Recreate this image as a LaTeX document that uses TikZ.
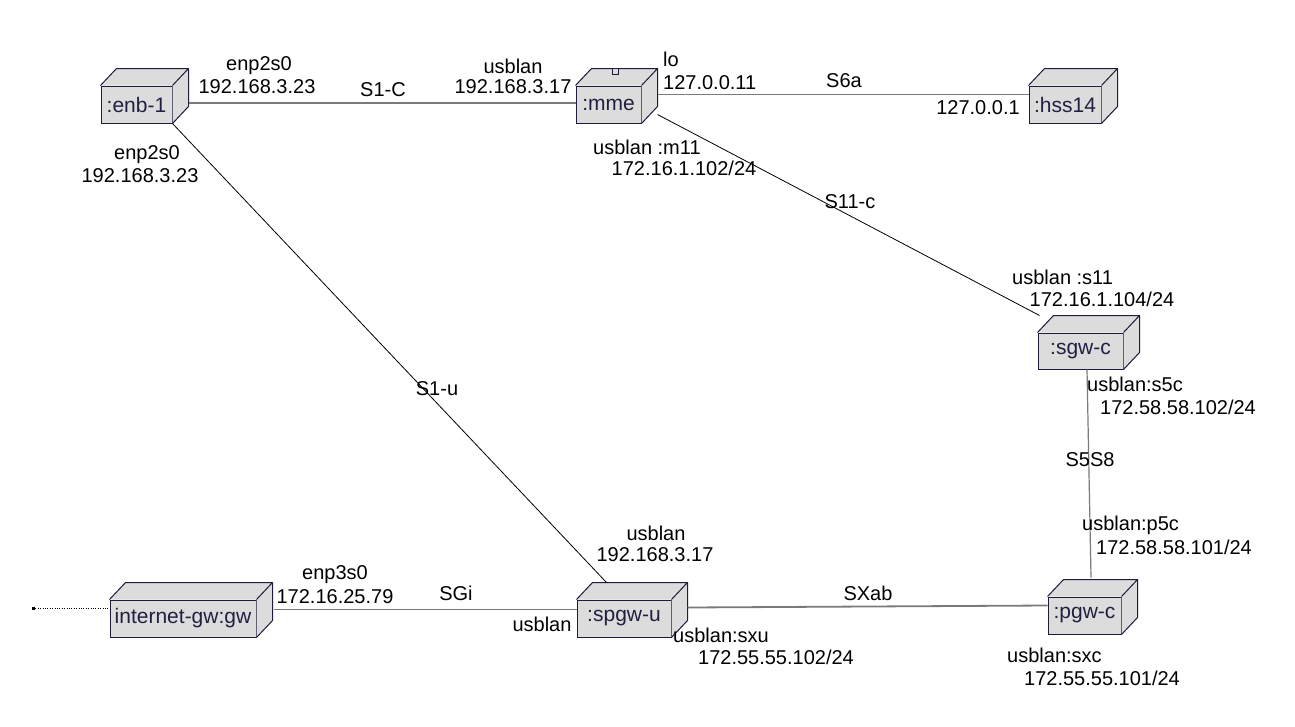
\documentclass[tikz,border=0pt]{standalone}
\usepackage{fontspec}
\setmainfont{Liberation Sans}
\usetikzlibrary{calc}
\definecolor{boxgray}{HTML}{DCDCDC}
\definecolor{boxedge}{HTML}{1C1C3C}
\definecolor{boxtext}{HTML}{202040}
\definecolor{linkgray}{HTML}{7A7A7A}
\newcommand\lblfont{\fontsize{20}{23}\selectfont}
\newcommand\boxfont{\fontsize{21}{24}\selectfont}
\newcommand\boxdepth[1]{%
  \fill[boxgray] (#1.north west) -- ++(16,-17) -- ($(#1.north east)+(16,-17)$) -- ($(#1.south east)+(16,-17)$) -- (#1.south east) -- (#1.north east) -- cycle;
  \draw[draw=boxedge, line width=1pt, line join=round] (#1.north west) -- ++(16,-17) -- ($(#1.north east)+(16,-17)$) -- ($(#1.south east)+(16,-17)$) -- (#1.south east) (#1.north east) -- ++(16,-17);}
\tikzset{
  ubox/.style={draw=boxedge, fill=boxgray, line width=1pt, minimum height=37pt, inner sep=0pt, text=boxtext, font=\boxfont},
  lbl/.style={font=\lblfont, inner sep=0pt, text=black},
  thinlink/.style={draw=black, line width=0.8pt},
  graylink/.style={draw=linkgray, line width=1.8pt},
  finedots/.style={dash pattern=on 0.8pt off 1.6pt},
}
\begin{document}
\begin{tikzpicture}[x=1pt, y=-1pt]
\useasboundingbox (0,0) rectangle (1295,726);
\fill[white] (0,0) rectangle (1295,726);

% boxes
\node[ubox, minimum width=71pt] (enb) at (136.5,104.5) {:enb-1};
\boxdepth{enb}
\node[ubox, minimum width=65pt] (mme) at (608.5,104.5) {:mme};
\boxdepth{mme}
\filldraw[fill=boxgray, draw=boxedge, line width=0.8pt] ($(mme.north west)+(37,-17)$) rectangle ++(6,6);
\node[ubox, minimum width=72pt] (hss) at (1065,104.5) {:hss14};
\boxdepth{hss}
\node[ubox, minimum width=85pt, minimum height=36pt] (sgw) at (1080.5,351) {:sgw-c};
\boxdepth{sgw}
\node[ubox, minimum width=73pt] (pgw) at (1084.5,615.5) {:pgw-c};
\boxdepth{pgw}
\node[ubox, minimum width=94pt] (spgw) at (624,618.5) {:spgw-u};
\boxdepth{spgw}
\node[ubox, minimum width=146pt] (gw) at (183,618.5) {internet-gw:gw};
\boxdepth{gw}
\coordinate (dotend) at (33,608);

% connectors
\draw[graylink] ($(enb.east)+(16,-1.5)$) -- ($(mme.west)+(0,-1.5)$);
\draw[thinlink] (enb.south east) -- ($(spgw.north west)+(30,-17)$);
\draw[graylink] ($(mme.east)+(16,-10)$) -- ($(hss.west)+(0,-10)$);
\draw[thinlink] ($(mme.east)+(16,10)$) -- ($(sgw.north west)+(2,-17)$);
\draw[draw=linkgray, line width=1.2pt] ($(sgw.south)+(6.5,0)$) -- ($(pgw.north)+(6.5,-19)$);
\draw[graylink] ($(spgw.east)+(16,-11)$) -- ($(pgw.west)+(0,-10)$);
\draw[graylink] ($(gw.east)+(17,-9)$) -- ($(spgw.west)+(0,-9)$);
\draw[black, finedots, line width=0.8pt] (dotend) -- ($(gw.west)+(0,-10.5)$);
\fill[black] ($(dotend)+(-1.5,-1.5)$) rectangle ++(3,3);

% labels
\node[lbl] (l1) at (259,66) {enp2s0};
\node[lbl] (l2) at (257,87) {192.168.3.23};
\node[lbl] (l3) at (383,90) {S1-C};
\node[lbl] (l4) at (513,66) {usblan};
\node[lbl] (l5) at (513,87) {192.168.3.17};
\node[lbl, anchor=west] (l6) at (663,59) {lo};
\node[lbl, anchor=west] (l7) at (663,83) {127.0.0.11};
\node[lbl] (l8) at (844,81) {S6a};
\node[lbl] (l9) at (978,108) {127.0.0.1};
\node[lbl] (l10) at (147,155) {enp2s0};
\node[lbl] (l11) at (140,176) {192.168.3.23};
\node[lbl, anchor=west] (l12) at (593,147) {usblan :m11};
\node[lbl] (l13) at (684,168) {172.16.1.102/24};
\node[lbl] (l14) at (850,202) {S11-c};
\node[lbl, anchor=west] (l15) at (1012,277) {usblan :s11};
\node[lbl] (l16) at (1102,299) {172.16.1.104/24};
\node[lbl] (l17) at (437,389) {S1-u};
\node[lbl, anchor=west] (l18) at (1087,384) {usblan:s5c};
\node[lbl] (l19) at (1178,407) {172.58.58.102/24};
\node[lbl] (l20) at (1090,460) {S5S8};
\node[lbl, anchor=west] (l21) at (1082,525) {usblan:p5c};
\node[lbl] (l22) at (1174,547) {172.58.58.101/24};
\node[lbl] (l23) at (656,533) {usblan};
\node[lbl] (l24) at (655,555) {192.168.3.17};
\node[lbl] (l25) at (335,575) {enp3s0};
\node[lbl] (l26) at (335,597) {172.16.25.79};
\node[lbl] (l27) at (456,593) {SGi};
\node[lbl] (l28) at (542,624) {usblan};
\node[lbl] (l29) at (868,593) {SXab};
\node[lbl, anchor=west] (l30) at (673,635) {usblan:sxu};
\node[lbl] (l31) at (776,657) {172.55.55.102/24};
\node[lbl, anchor=west] (l32) at (1007,655) {usblan:sxc};
\node[lbl] (l33) at (1102,678) {172.55.55.101/24};
\end{tikzpicture}
\end{document}
